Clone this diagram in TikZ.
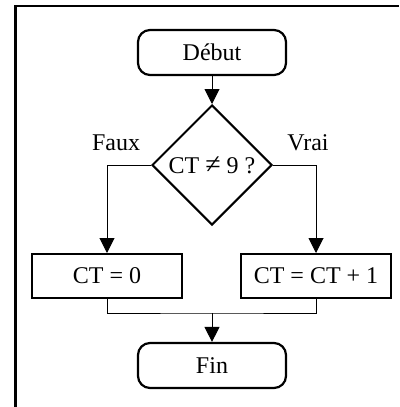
\documentclass[tikz,border=0pt]{standalone}
\usepackage{fontspec}
\setmainfont{Liberation Serif}
\usetikzlibrary{arrows.meta,shapes.geometric}
\tikzset{
  terminal/.style={draw, line width=2.2pt, rounded corners=12pt,
    minimum width=148pt, minimum height=45pt, inner sep=0pt},
  process/.style={draw, line width=2pt, minimum width=150pt,
    minimum height=44pt, inner sep=0pt},
  decision/.style={draw, diamond, line width=2pt, minimum width=120pt,
    minimum height=120pt, inner sep=0pt},
  flow/.style={line width=1pt},
  flowarrow/.style={flow, -{Triangle[width=15pt,length=15pt]}},
  frame/.style={line width=2.5pt}
}
\begin{document}
\begin{tikzpicture}[x=1pt, y=-1pt, font=\fontsize{24}{28}\selectfont]
  \useasboundingbox (0,0) rectangle (399,407);

  % open frame on the left and top
  \draw[frame] (15.5,407) -- (15.5,6) -- (399,6);

  \node[terminal] (debut) at (212,52.5) {Début};
  \node[decision] (test) at (212,165) {CT {\fontsize{28}{28}\selectfont ≠} 9 ?};
  \node[process] (raz) at (107,276) {CT = 0};
  \node[process] (inc) at (316,276) {CT = CT + 1};
  \node[terminal] (fin) at (212,365.5) {Fin};

  \node (faux) at (116,143) {Faux};
  \node (vrai) at (308,143) {Vrai};

  \coordinate (merge) at (212,313);

  \draw[flowarrow] (debut.south) -- (test.north);
  \draw[flowarrow] (test.west) -| (raz.north);
  \draw[flowarrow] (test.east) -| (inc.north);
  \draw[flow] (raz.south) |- (merge) -| (inc.south);
  \draw[flowarrow] (merge) -- (fin.north);
\end{tikzpicture}
\end{document}
